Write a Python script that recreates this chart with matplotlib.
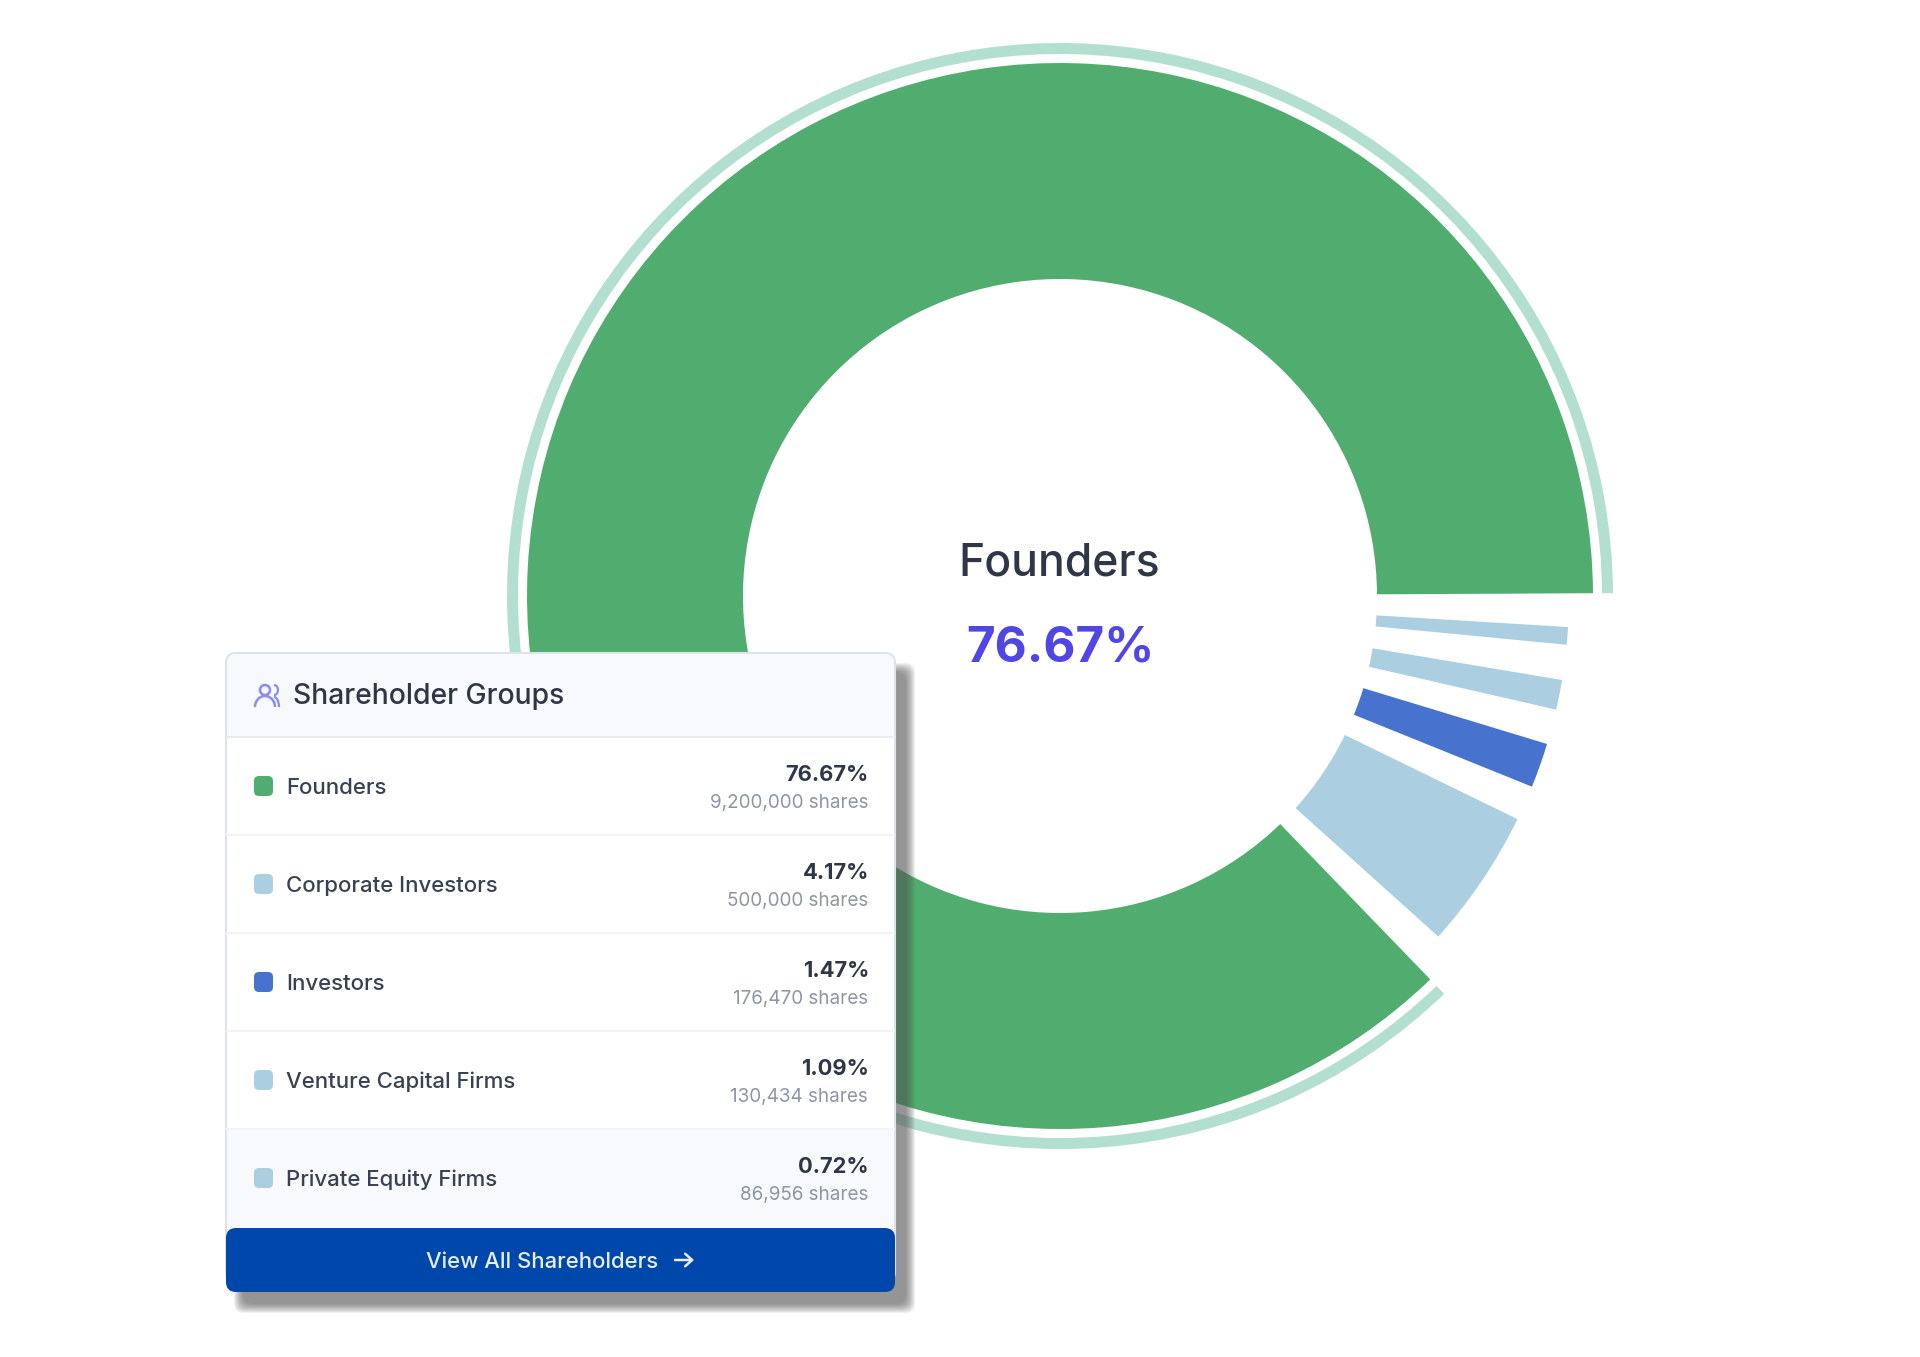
import matplotlib
matplotlib.use('Agg')
import matplotlib.pyplot as plt
from matplotlib.patches import FancyBboxPatch, Rectangle, Circle, Arc

plt.rcParams['font.family'] = ['Inter', 'DejaVu Sans']

groups = ['Founders', 'Corporate Investors', 'Investors', 'Venture Capital Firms', 'Private Equity Firms']
percents = ['76.67%', '4.17%', '1.47%', '1.09%', '0.72%']
shares = ['9,200,000 shares', '500,000 shares', '176,470 shares', '130,434 shares', '86,956 shares']
swatches = ['#50AD6F', '#ACCEE1', '#4773CF', '#ACCEE1', '#ACCEE1']

# arc widths as drawn in the donut, degrees, clockwise from 3 o'clock (gaps are blank)
arc_sizes = [3.8, 2.0, 4.0, 3.4, 4.0, 5.1, 4.0, 16.0, 4.0, 313.7]
arc_colors = ['none', '#ACCEE1', 'none', '#ACCEE1', 'none', '#4773CF', 'none', '#ACCEE1', 'none', '#50AD6F']
ring_colors = ['none'] * 9 + ['#B2DFD0']

W, H = 1920, 1357
CX, CY = 1060, 596

fig = plt.figure(figsize=(19.2, 13.57), dpi=100, facecolor='white')

# donut, axes units are pixels with the centre at 0,0
ax = fig.add_axes([0, 0, 1, 1])
wedges, _ = ax.pie(arc_sizes, colors=arc_colors, radius=509, startangle=0.3, counterclock=False,
                   wedgeprops=dict(width=192, linewidth=0))
wedges[-1].set_radius(533)
wedges[-1].set_width(216)
ax.pie(arc_sizes, colors=ring_colors, radius=553, startangle=0.3, counterclock=False,
       wedgeprops=dict(width=11, linewidth=0))
ax.set_xlim(-CX, W - CX)
ax.set_ylim(CY - H, CY)
ax.axis('off')
ax.text(-1, 32, 'Founders', fontsize=32, color='#2F3645', ha='center', va='center', fontweight='medium')
ax.text(0, -53, percents[0], fontsize=35.6, color='#4F46E5', ha='center', va='center', fontweight='bold')

# card, axes units are image pixels
card = fig.add_axes([0, 0, 1, 1])
card.set_xlim(0, W)
card.set_ylim(H, 0)
card.axis('off')
card.patch.set_alpha(0)

L, R, T = 226, 895, 653
HEAD, ROW = 737, 98
BTN_T, BTN_B = 1228, 1292

def box(x0, y0, x1, y1, r, **kw):
    p = FancyBboxPatch((x0 + r, y0 + r), x1 - x0 - 2 * r, y1 - y0 - 2 * r,
                       boxstyle='round,pad=%g,rounding_size=%g' % (r, r), linewidth=kw.pop('lw', 0), **kw)
    card.add_patch(p)
    return p

# soft shadow to the lower right
for i in range(10):
    box(L + 8 + i, T + 10 + i, R + 20 - i, BTN_B + 21 - i, 10, facecolor='#555555', alpha=0.085, zorder=1)

box(L, T, R, BTN_B - 10, 10, facecolor='white', edgecolor='#DDE3EA', lw=1.5, zorder=2)
box(L + 1, T + 1, R - 1, HEAD + 20, 9, facecolor='#F8F9FD', zorder=3)
card.add_patch(Rectangle((L + 1, HEAD), R - L - 2, ROW * 4, facecolor='white', linewidth=0, zorder=3))
card.add_patch(Rectangle((L + 1, HEAD + ROW * 4), R - L - 2, ROW, facecolor='#F8F9FD', linewidth=0, zorder=3))
card.plot([L + 1, R - 1], [HEAD, HEAD], color='#E8EBF0', lw=1.5, zorder=4)

# people icon in the header
icon = '#8A8CF5'
card.add_patch(Circle((265, 690), 5, fill=False, edgecolor=icon, lw=1.8, zorder=5))
card.add_patch(Arc((265, 707), 20, 22, theta1=180, theta2=360, edgecolor=icon, lw=1.8, zorder=5))
card.add_patch(Arc((274, 690), 8, 10, theta1=270, theta2=90, edgecolor=icon, lw=1.6, zorder=5))
card.add_patch(Arc((274, 707), 10, 20, theta1=270, theta2=360, edgecolor=icon, lw=1.6, zorder=5))
card.text(293, 697, 'Shareholder Groups', fontsize=20.4, color='#2F3645', va='center', zorder=5, fontweight='medium')

for i, name in enumerate(groups):
    y = HEAD + ROW * i + 49
    if i > 0:
        card.plot([L + 1, R - 1], [HEAD + ROW * i] * 2, color='#F1F3F6', lw=1.5, zorder=4)
    box(254, y - 10, 273, y + 10, 5, facecolor=swatches[i], zorder=5)
    card.text(286, y + 2, name, fontsize=16, color='#3A4252', va='center', zorder=5, fontweight='medium')
    card.text(869, y - 11, percents[i], fontsize=15.8, color='#2F3645', va='center', ha='right',
              fontweight='bold', zorder=5)
    card.text(868, y + 17, shares[i], fontsize=13.6, color='#8F96A3', va='center', ha='right', zorder=5)

box(L, BTN_T, R, BTN_B, 10, facecolor='#0047AB', zorder=6)
card.text(542, 1262, 'View All Shareholders', fontsize=15.9, color='#E8EEF8', ha='center', va='center', zorder=7,
          fontweight='medium')
card.annotate('', xy=(694, 1260), xytext=(675, 1260), zorder=7,
              arrowprops=dict(arrowstyle='->,head_width=0.45,head_length=0.5', color='#E8EEF8', lw=1.8,
                              shrinkA=0, shrinkB=0))

fig.savefig('out.png', dpi=100)
